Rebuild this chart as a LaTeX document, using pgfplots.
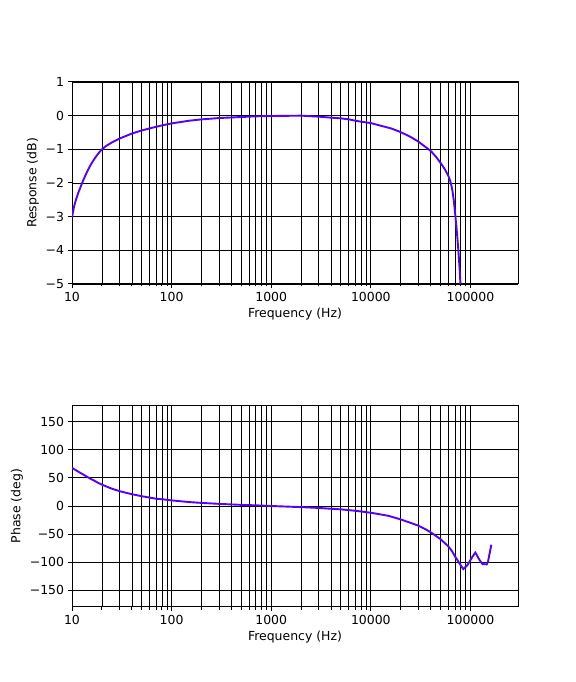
\documentclass[border=0pt]{standalone}
\usepackage{fontspec}
\setmainfont{DejaVu Sans}
\usepackage{pgfplots}
\pgfplotsset{compat=1.18}
\definecolor{curve}{RGB}{85,0,255}
\begin{document}
\begin{tikzpicture}
\useasboundingbox (0,0) rectangle (576bp,682bp);
\begin{axis}[
  xmode=log, scale only axis, width=446bp, height=202bp,
  anchor=south west, at={(72bp,398bp)},
  xmin=10, xmax=300000,
  xtick={10,100,1000,10000,100000},
  xticklabels={10,100,1000,10000,100000},
  grid=both,
  major grid style={black, line width=0.9bp},
  minor grid style={black, line width=0.9bp},
  axis line style={line width=1bp},
  tick style={black, line width=1bp},
  tick align=outside, tick pos=left,
  major tick length=4.4bp, minor tick length=2.5bp,
  ticklabel style={font=\fontsize{12.5}{15}\selectfont},
  label style={font=\fontsize{12.5}{15}\selectfont},
  xlabel={Frequency (Hz)},
  xlabel style={yshift=0bp},
  ymin=-5, ymax=1,
  ytick={-5,-4,-3,-2,-1,0,1},
  yticklabels={−5,−4,−3,−2,−1,0,1},
  ylabel={Response (dB)}]
\addplot[curve, line width=1.9bp] coordinates {
(10,-3.02) (10.5,-2.69) (11,-2.48) (11.5,-2.31) (12,-2.17) (13,-1.91)
(14,-1.70) (15,-1.52) (16,-1.38) (17,-1.26) (18,-1.16) (19,-1.07)
(20,-1.0) (22,-0.9) (25,-0.8) (30,-0.68) (35,-0.6) (40,-0.53) (50,-0.44)
(60,-0.38) (70,-0.33) (80,-0.29) (100,-0.23) (150,-0.15) (200,-0.11)
(300,-0.07) (500,-0.04) (700,-0.02) (1000,-0.01) (2000,0.0) (3000,-0.03)
(4000,-0.06) (5000,-0.08) (6000,-0.11) (7000,-0.15) (8000,-0.18)
(10000,-0.22) (13000,-0.31) (16000,-0.38) (20000,-0.49) (25000,-0.63)
(30000,-0.77) (35000,-0.92) (40000,-1.05) (45000,-1.22) (50000,-1.40)
(55000,-1.58) (60000,-1.79) (62000,-1.90) (64000,-2.04) (66000,-2.24)
(68000,-2.52) (70000,-2.88) (72000,-3.25) (74000,-3.65) (76000,-4.1)
(78000,-4.6) (79000,-4.9) (80000,-5.2) (81000,-5.6)
};
\end{axis}
\begin{axis}[
  xmode=log, scale only axis, width=446bp, height=202bp,
  anchor=south west, at={(72bp,75bp)},
  xmin=10, xmax=300000,
  xtick={10,100,1000,10000,100000},
  xticklabels={10,100,1000,10000,100000},
  grid=both,
  major grid style={black, line width=0.9bp},
  minor grid style={black, line width=0.9bp},
  axis line style={line width=1bp},
  tick style={black, line width=1bp},
  tick align=outside, tick pos=left,
  major tick length=4.4bp, minor tick length=2.5bp,
  ticklabel style={font=\fontsize{12.5}{15}\selectfont},
  label style={font=\fontsize{12.5}{15}\selectfont},
  xlabel={Frequency (Hz)},
  xlabel style={yshift=0bp},
  ymin=-180, ymax=180,
  ytick={-150,-100,-50,0,50,100,150},
  yticklabels={−150,−100,−50,0,50,100,150},
  ylabel={Phase (deg)}]
\addplot[curve, line width=1.9bp] coordinates {
(10,68) (11,63.5) (12,59.5) (13,56) (14,52.5) (15,49.5) (16,47) (18,42)
(20,38) (22,35) (25,31) (30,26.5) (35,23.5) (40,21) (50,17.5) (60,15)
(70,13) (80,12) (100,10) (150,7) (200,5.5) (300,3.8) (500,2)
(700,1.2) (1000,0) (2000,-2) (3000,-3.5) (5000,-6) (7000,-8.5) (10000,-12)
(15000,-17.5) (20000,-24) (25000,-30) (30000,-35) (35000,-41) (40000,-47)
(50000,-59) (60000,-72) (65000,-80) (70000,-90) (75000,-98) (80000,-106)
(84600,-112.5) (93500,-105) (105000,-90) (112000,-83) (123000,-96)
(132000,-103.5) (146000,-104) (150000,-99) (162000,-69)
};
\end{axis}
\end{tikzpicture}
\end{document}
